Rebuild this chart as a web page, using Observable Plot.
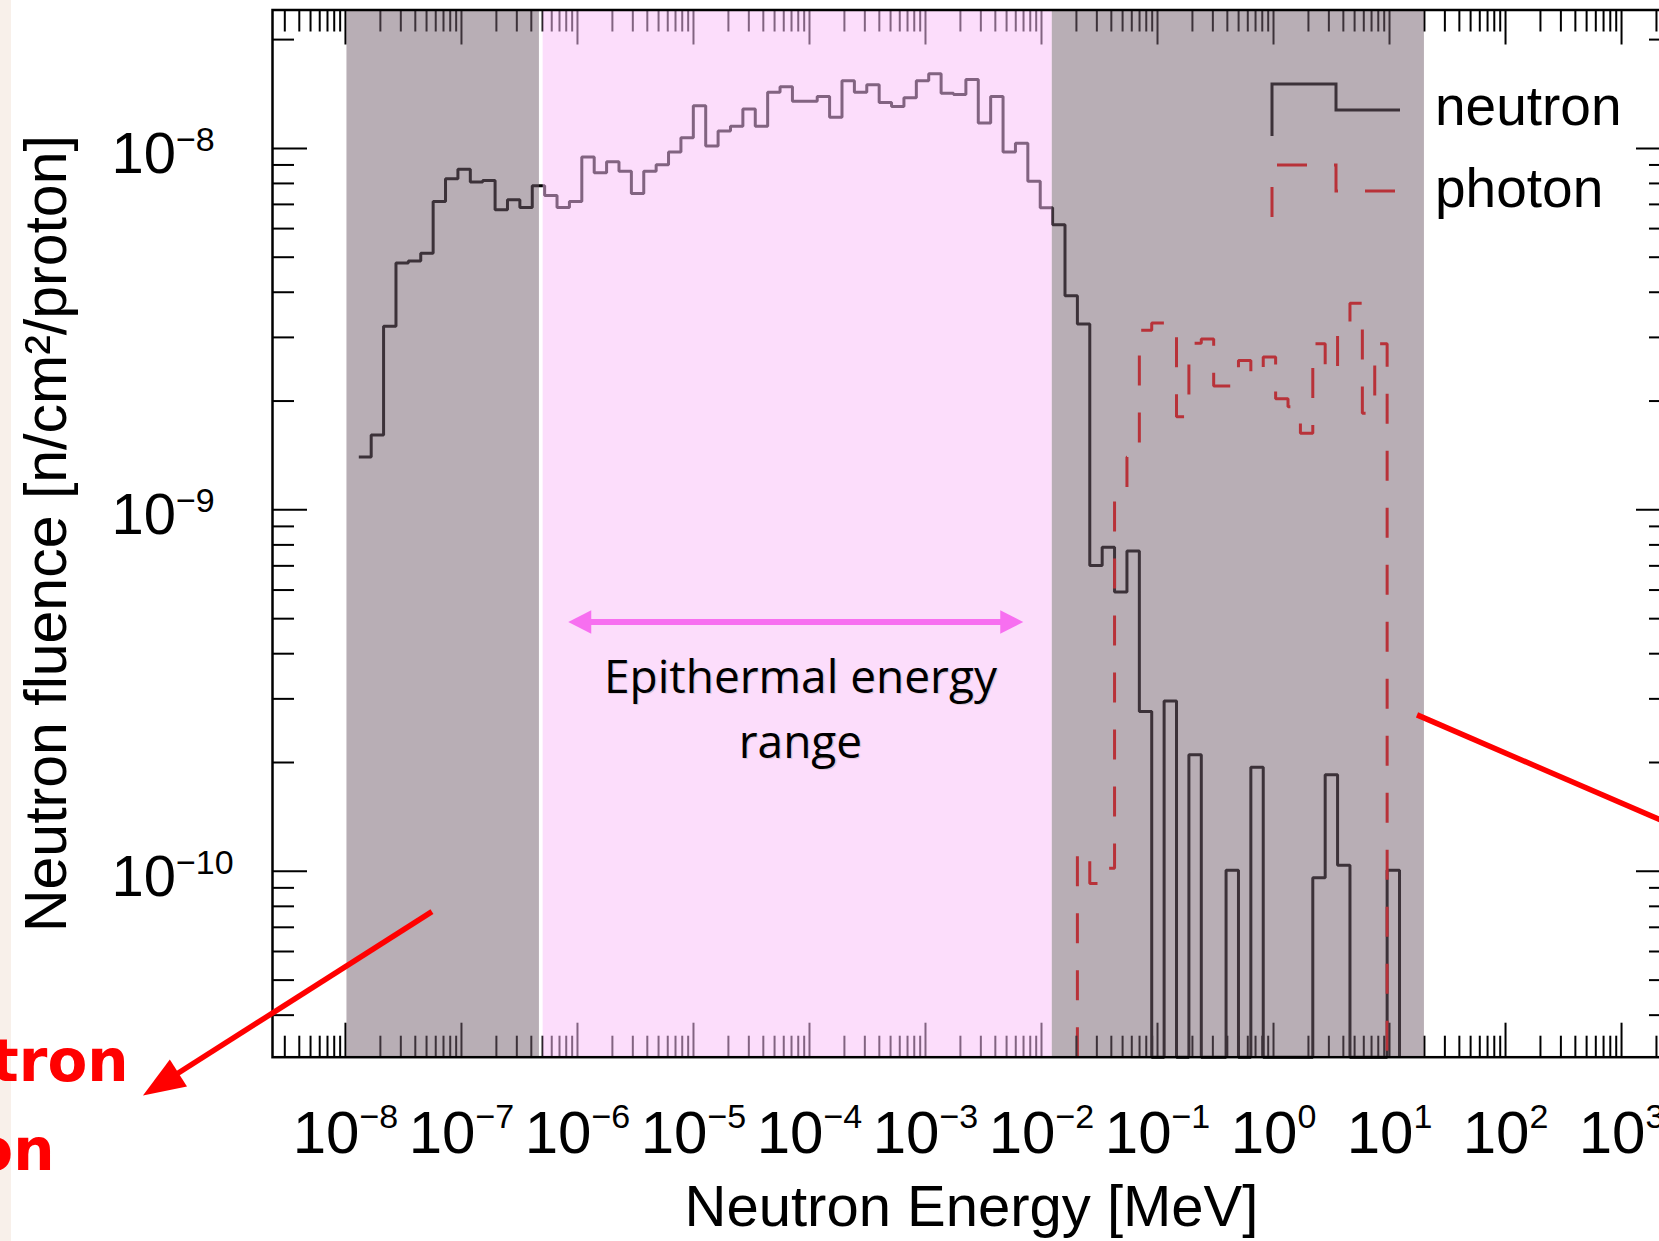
<!DOCTYPE html>
<html>
<head>
<meta charset="utf-8">
<script src="https://cdn.jsdelivr.net/npm/d3@7"></script>
<script src="https://cdn.jsdelivr.net/npm/@observablehq/plot@0.6"></script>
<style>
  html, body { margin: 0; padding: 0; background: #ffffff; overflow: hidden; }
  #page { position: relative; width: 1659px; height: 1241px; overflow: hidden; background: #ffffff; }
  #edge { position: absolute; left: 0; top: 0; width: 11px; height: 1241px; background: #f8f0ea; }
  #chart { position: absolute; left: 0; top: 0; }
</style>
</head>
<body>
<div id="page"><div id="edge"></div><div id="chart"></div></div>
<script>
// ---------------- data ----------------
// histogram binning: lower edge of first bin (log10 MeV) and bin width in decades
const binStartExp = -7.885;
const binWidthExp = 0.1068;

// neutron fluence per bin [n/cm2/proton], 0 = empty bin
const neutron = [
  1.40e-9, 1.61e-9, 3.22e-9, 4.82e-9, 4.88e-9, 5.13e-9, 7.13e-9, 8.24e-9, 8.75e-9, 8.07e-9,
  8.15e-9, 6.76e-9, 7.21e-9, 6.86e-9, 7.88e-9, 7.41e-9, 6.86e-9, 7.13e-9, 9.46e-9, 8.57e-9,
  9.19e-9, 8.65e-9, 7.50e-9, 8.65e-9, 9.01e-9, 9.77e-9, 1.071e-8, 1.312e-8, 1.015e-8, 1.117e-8,
  1.151e-8, 1.285e-8, 1.151e-8, 1.43e-8, 1.48e-8, 1.35e-8, 1.35e-8, 1.393e-8, 1.22e-8, 1.54e-8,
  1.43e-8, 1.50e-8, 1.34e-8, 1.305e-8, 1.38e-8, 1.54e-8, 1.61e-8, 1.42e-8, 1.41e-8, 1.55e-8,
  1.175e-8, 1.393e-8, 9.77e-9, 1.034e-8, 8.11e-9, 6.85e-9, 6.15e-9, 3.91e-9, 3.27e-9, 7.02e-10,
  7.88e-10, 5.93e-10, 7.69e-10, 2.77e-10, 0, 2.96e-10, 0, 2.10e-10, 0, 0,
  1.007e-10, 0, 1.94e-10, 0, 0, 0, 0, 9.6e-11, 1.85e-10, 1.04e-10,
  0, 0, 0, 1.007e-10
];

// photon fluence, starting at bin index photonFirstBin
const photonFirstBin = 58;
const photon = [
  1.135e-10, 9.25e-11, 1.02e-10, 1.13e-9, 1.40e-9, 3.14e-9, 3.29e-9, 3.15e-9, 1.81e-9, 2.89e-9,
  2.97e-9, 2.20e-9, 2.20e-9, 2.59e-9, 2.34e-9, 2.65e-9, 2.03e-9, 1.93e-9, 1.63e-9, 2.88e-9,
  2.40e-9, 3.26e-9, 3.73e-9, 1.85e-9, 2.88e-9, 0
];

const seriesNames = ["neutron", "photon"];
const xTitle = "Neutron Energy [MeV]";
const yTitle = "Neutron fluence [n/cm\u00B2/proton]";

// axes
const xDomain = [2.35e-9, 2643];
const yDomain = [3.06e-11, 2.415e-8];
const xLabelExponents = [-8, -7, -6, -5, -4, -3, -2, -1, 0, 1, 2, 3];
const yLabelExponents = [-10, -9, -8];
const tickDecades = [-12, -11, -10, -9, -8, -7, -6, -5, -4, -3, -2, -1, 0, 1, 2, 3, 4];
const minorMultipliers = [2, 3, 4, 5, 6, 7, 8, 9];

// slide annotations (energy / fluence coordinates)
const grayRegions = [[1.03e-8, 4.70e-7], [1.236e-2, 20]];
const pinkRegions = [[5.06e-7, 1.236e-2]];
const rangeArrow = [{x1: 8.41e-7, x2: 7.03e-3, y: 4.88e-10}];
const rangeLabel = [
  {x: 8.36e-5, y: 3.43e-10, text: "Epithermal energy"},
  {x: 8.36e-5, y: 2.26e-10, text: "range"}
];
const redArrows = [
  {x1: 5.62e-8, y1: 7.71e-11, x2: 1.815e-10, y2: 2.39e-11, head: true},
  {x1: 17.43, y1: 2.70e-10, x2: 4797, y2: 1.24e-10, head: false}
];
const redLabels = [
  {x: 1.35e-10, y: 2.96e-11, text: "tron"},
  {x: 3.10e-11, y: 1.68e-11, text: "on"}
];

// ---------------- build ----------------
const nBins = neutron.length;
const edges = d3.range(nBins + 1).map(i => 10 ** (binStartExp + i * binWidthExp));
const floor = yDomain[0];
const neutronPts = neutron.map((v, i) => ({x: edges[i], y: v > 0 ? v : floor}));
neutronPts.push({x: edges[nBins], y: floor});
const photonPts = [{x: edges[photonFirstBin], y: floor}];
photon.forEach((v, j) => photonPts.push({x: edges[photonFirstBin + j], y: v > 0 ? v : floor}));
photonPts.push({x: edges[photonFirstBin + photon.length], y: floor});

const inX = v => v >= xDomain[0] && v <= xDomain[1];
const inY = v => v >= yDomain[0] && v <= yDomain[1];
const majors = tickDecades.map(e => 10 ** e);
const minors = tickDecades.flatMap(e => minorMultipliers.map(m => m * 10 ** e));
const xMaj = majors.filter(inX), xMin = minors.filter(inX);
const yMaj = majors.filter(inY), yMin = minors.filter(inY);
const fmtExp = d => {
  const e = Math.round(Math.log10(d));
  return "10^" + (e < 0 ? "\u2212" + (-e) : String(e));
};

const W = 1700, H = 1241;
const FR = {left: 272, right: 1670, top: 9.5, bottom: 1056.7};

function screenMark(draw) {
  return function (...args) {
    let scales, dims;
    if (args.length >= 4 && args[1] && typeof args[1].x === "function") { scales = args[1]; dims = args[3]; }
    else { scales = args[0]; dims = args[1]; }
    return draw(scales, dims);
  };
}

const legendStyles = [
  {stroke: "#000000", dash: null},
  {stroke: "#ff0000", dash: "30,27"}
];
const legendSymbols = screenMark((s, d) => {
  const fr = d.width - d.marginRight, ft = d.marginTop;
  const g = d3.create("svg:g");
  seriesNames.forEach((name, i) => {
    const o = i * 81;
    g.append("path")
      .attr("d", `M${fr - 398},${ft + 126.5 + o}V${ft + 74.5 + o}H${fr - 334}V${ft + 100.5 + o}H${fr - 270}`)
      .attr("fill", "none").attr("stroke", legendStyles[i].stroke).attr("stroke-width", 3)
      .attr("stroke-dasharray", legendStyles[i].dash);
  });
  return g.node();
});
const legendText = screenMark((s, d) => {
  const fr = d.width - d.marginRight, ft = d.marginTop;
  const g = d3.create("svg:g").attr("text-anchor", "start");
  seriesNames.forEach((name, i) => {
    g.append("text").attr("x", fr - 235).attr("y", ft + 115.5 + i * 82)
      .attr("text-anchor", "start").attr("font-size", 55).attr("fill", "#000").text(name);
  });
  return g.node();
});

const rangeArrowMark = screenMark((s) => {
  const g = d3.create("svg:g");
  for (const a of rangeArrow) {
    const x1 = s.x(a.x1), x2 = s.x(a.x2), y = s.y(a.y), L = 23, h = 11.7, c = "#f76ff0";
    g.append("line").attr("x1", x1 + L - 2).attr("x2", x2 - L + 2).attr("y1", y).attr("y2", y)
      .attr("stroke", c).attr("stroke-width", 6);
    g.append("path").attr("d", `M${x1},${y}L${x1 + L},${y - h}L${x1 + L},${y + h}Z`).attr("fill", c);
    g.append("path").attr("d", `M${x2},${y}L${x2 - L},${y - h}L${x2 - L},${y + h}Z`).attr("fill", c);
  }
  return g.node();
});

const redArrowMark = screenMark((s) => {
  const g = d3.create("svg:g");
  for (const a of redArrows) {
    const x1 = s.x(a.x1), y1 = s.y(a.y1), x2 = s.x(a.x2), y2 = s.y(a.y2);
    const dx = x2 - x1, dy = y2 - y1, len = Math.hypot(dx, dy), ux = dx / len, uy = dy / len;
    const L = a.head ? 42 : 0, h = 16;
    const bx = x2 - ux * L, by = y2 - uy * L;
    g.append("line").attr("x1", x1).attr("y1", y1).attr("x2", bx + ux * 2).attr("y2", by + uy * 2)
      .attr("stroke", "#ff0000").attr("stroke-width", 5.5);
    if (a.head) {
      g.append("path")
        .attr("d", `M${x2},${y2}L${bx - uy * h},${by + ux * h}L${bx + uy * h},${by - ux * h}Z`)
        .attr("fill", "#ff0000");
    }
  }
  return g.node();
});

const tickStyle = {stroke: "#000", strokeWidth: 2, fill: "none", label: null};

const chart = Plot.plot({
  width: W, height: H,
  marginLeft: FR.left, marginRight: W - FR.right, marginTop: FR.top, marginBottom: H - FR.bottom,
  x: {type: "log", domain: xDomain, label: null},
  y: {type: "log", domain: yDomain, label: null},
  style: {fontFamily: "'Liberation Sans', Arial, Helvetica, sans-serif", color: "#000", background: "transparent", maxWidth: "none"},
  marks: [
    Plot.line(neutronPts, {x: "x", y: "y", curve: "step-after", stroke: "#000", strokeWidth: 3, strokeLinecap: "butt", strokeLinejoin: "miter"}),
    Plot.line(photonPts, {x: "x", y: "y", curve: "step-after", stroke: "#ff0000", strokeWidth: 3, strokeDasharray: "30,27", strokeLinecap: "butt", strokeLinejoin: "miter"}),
    legendSymbols,
    Plot.axisX(xMaj, {...tickStyle, anchor: "bottom", tickSize: -34}),
    Plot.axisX(xMin, {...tickStyle, anchor: "bottom", tickSize: -21}),
    Plot.axisX(xMaj, {...tickStyle, anchor: "top", tickSize: -34}),
    Plot.axisX(xMin, {...tickStyle, anchor: "top", tickSize: -21}),
    Plot.axisY(yMaj, {...tickStyle, anchor: "left", tickSize: -35}),
    Plot.axisY(yMin, {...tickStyle, anchor: "left", tickSize: -22}),
    Plot.axisY(yMaj, {...tickStyle, anchor: "right", tickSize: -35}),
    Plot.axisY(yMin, {...tickStyle, anchor: "right", tickSize: -22}),
    Plot.rect(grayRegions, {x1: d => d[0], x2: d => d[1], fill: "#75616f", fillOpacity: 0.514}),
    Plot.rect(pinkRegions, {x1: d => d[0], x2: d => d[1], fill: "#fabef8", fillOpacity: 0.52}),
    Plot.frame({stroke: "#000", strokeWidth: 2.5}),
    legendText,
    Plot.axisX(xLabelExponents.map(e => 10 ** e), {anchor: "bottom", tickSize: 0, tickPadding: 53, fontSize: 60, tickFormat: fmtExp, label: null}),
    Plot.axisY(yLabelExponents.map(e => 10 ** e), {anchor: "left", tickSize: 0, tickPadding: 161, textAnchor: "start", dy: 6, fontSize: 58, tickFormat: fmtExp, label: null}),
    Plot.text([xTitle], {frameAnchor: "bottom", textAnchor: "middle", lineAnchor: "middle", dy: 150, fontSize: 58, text: d => d}),
    Plot.text([yTitle], {frameAnchor: "left", textAnchor: "middle", lineAnchor: "middle", rotate: -90, dx: -224.9, fontSize: 59, text: d => d}),
    Plot.text(rangeLabel, {x: "x", y: "y", text: "text", fontFamily: "'Open Sans', sans-serif", fontSize: 46, fill: "#dcc6da", dx: 1.3, dy: 1.3}),
    Plot.text(rangeLabel, {x: "x", y: "y", text: "text", fontFamily: "'Open Sans', sans-serif", fontSize: 46, fill: "#000"}),
    rangeArrowMark,
    redArrowMark,
    Plot.text(redLabels, {x: "x", y: "y", text: "text", textAnchor: "end", fontFamily: "'DejaVu Sans', sans-serif", fontWeight: "bold", fontSize: 58, fill: "#ff0000"})
  ]
});

// superscript exponents in tick labels
const NS = "http://www.w3.org/2000/svg";
function supLabels(selector, raise, supSize) {
  chart.querySelectorAll(selector).forEach(t => {
    const s = t.textContent, i = s.indexOf("^");
    if (i < 0) return;
    t.textContent = "";
    const a = document.createElementNS(NS, "tspan"); a.textContent = s.slice(0, i); t.appendChild(a);
    const b = document.createElementNS(NS, "tspan"); b.textContent = s.slice(i + 1);
    b.setAttribute("dy", -raise); b.setAttribute("font-size", supSize); t.appendChild(b);
  });
}
supLabels('g[aria-label="x-axis tick label"] text', 25, 34);
supLabels('g[aria-label="y-axis tick label"] text', 22, 34);

document.getElementById("chart").appendChild(chart);
</script>
</body>
</html>
